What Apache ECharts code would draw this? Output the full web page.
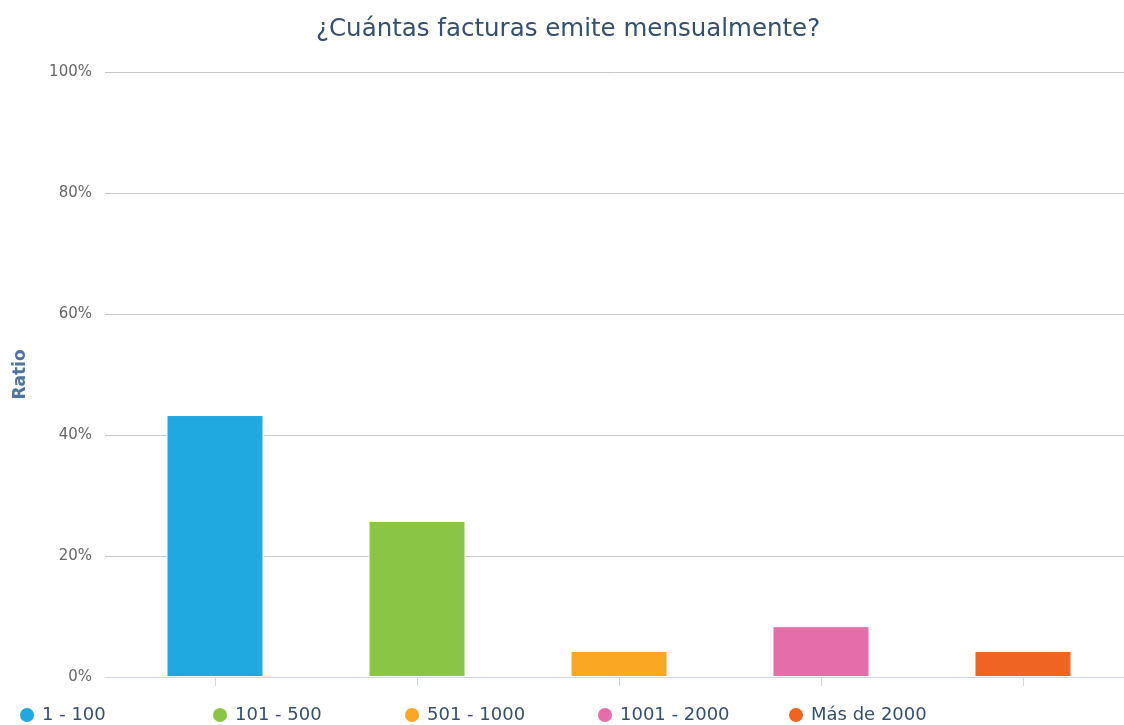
<!DOCTYPE html>
<html><head><meta charset="utf-8">
<script src="https://cdn.jsdelivr.net/npm/echarts@6/dist/echarts.min.js"></script>
<style>html,body{margin:0;padding:0;background:#fff}#c{width:1124px;height:725px}</style>
</head><body><div id="c"></div>
<script>
const titleText = '¿Cuántas facturas emite mensualmente?';
const categories = ['1 - 100', '101 - 500', '501 - 1000', '1001 - 2000', 'Más de 2000'];
const values = [43.3, 25.8, 4.3, 8.4, 4.3];
const colors = ['#20a8e0', '#8ac546', '#faa823', '#e56daa', '#ef6423'];
const yTicks = [0, 20, 40, 60, 80, 100];
const legendLefts = [18, 211, 403, 596, 787];

const chart = echarts.init(document.getElementById('c'));
const series = categories.map((name, i) => ({
  name: name,
  type: 'bar',
  stack: 'all',
  xAxisIndex: 1,
  yAxisIndex: 1,
  barWidth: 97,
  itemStyle: { color: colors[i], borderColor: '#ffffff', borderWidth: 1 },
  data: values.map((v, j) => (j === i ? v : null))
}));
const legends = categories.map((name, i) => ({
  top: 706, left: legendLefts[i], padding: 0, itemWidth: 16, itemHeight: 16, itemGap: 6, icon: 'circle',
  data: [name],
  textStyle: { fontFamily: 'DejaVu Sans', fontSize: 18, color: '#34506e', padding: [0, 0, 0, 2] }
}));
chart.setOption({
  animation: false,
  color: colors,
  title: {
    text: titleText, left: 316, top: 17, padding: 0,
    textStyle: { fontFamily: 'DejaVu Sans', fontSize: 24.5, fontWeight: 'normal', color: '#34506e' }
  },
  legend: legends,
  grid: [
    { left: 105, right: 0, top: 72, bottom: 48 },
    { left: 114, right: 0, top: 72, bottom: 48 }
  ],
  xAxis: [
    { type: 'category', gridIndex: 0, data: categories, axisLabel: { show: false }, axisTick: { show: false },
      axisLine: { lineStyle: { color: '#ccd6eb', width: 1 } } },
    { type: 'category', gridIndex: 1, data: categories, axisLabel: { show: false },
      axisLine: { show: false },
      axisTick: { show: true, alignWithLabel: true, length: 9, lineStyle: { color: '#ccd6eb' } } }
  ],
  yAxis: [
    { type: 'value', gridIndex: 0, min: yTicks[0], max: yTicks[yTicks.length - 1], interval: 20,
      name: 'Ratio', nameLocation: 'middle', nameRotate: 90, nameGap: 76,
      nameTextStyle: { fontFamily: 'DejaVu Sans', fontSize: 17, fontWeight: 'bold', color: '#4d759e' },
      axisLabel: { formatter: '{value}%', margin: 13, fontFamily: 'DejaVu Sans', fontSize: 15, color: '#666666' },
      axisLine: { show: false }, axisTick: { show: false },
      splitLine: { lineStyle: { color: '#c6c6c6', width: 1 } } },
    { type: 'value', gridIndex: 1, min: 0, max: 100, interval: 20, show: false, splitLine: { show: false } }
  ],
  series: series
});
</script></body></html>
